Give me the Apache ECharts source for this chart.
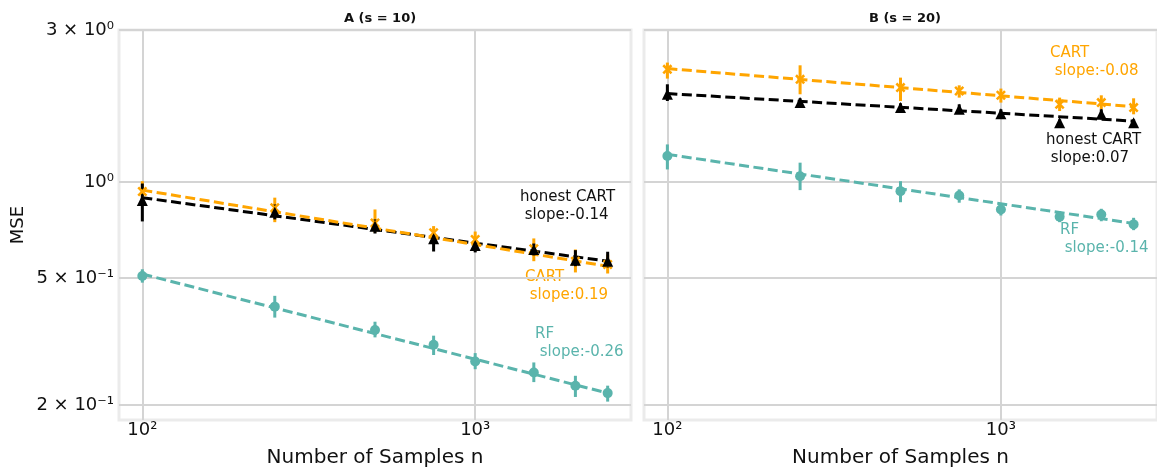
<!DOCTYPE html>
<html>
<head>
<meta charset="utf-8">
<title>MSE vs number of samples</title>
<script src="https://cdn.jsdelivr.net/npm/echarts@6/dist/echarts.min.js"></script>
<style>
  html, body { margin: 0; padding: 0; background: #fff; }
  #chart { width: 1157px; height: 468px; }
</style>
</head>
<body>
<div id="chart"></div>
<script>
// sample sizes (x) shared by both panels
const sampleSizes = [100, 250, 500, 750, 1000, 1500, 2000, 2500];

// panel A (s = 10)
const cartA = [0.935, 0.831, 0.745, 0.694, 0.661, 0.618, 0.565, 0.552];
const cartALo = [0.895, 0.749, 0.695, 0.638, 0.607, 0.565, 0.521, 0.517];
const cartAHi = [1.007, 0.894, 0.821, 0.728, 0.700, 0.666, 0.615, 0.593];
const honestA = [0.876, 0.805, 0.727, 0.664, 0.633, 0.615, 0.569, 0.565];
const honestALo = [0.753, 0.764, 0.690, 0.606, 0.602, 0.589, 0.545, 0.540];
const honestAHi = [0.990, 0.851, 0.764, 0.695, 0.661, 0.642, 0.612, 0.605];
const rfA = [0.508, 0.407, 0.344, 0.309, 0.274, 0.253, 0.230, 0.218];
const rfALo = [0.484, 0.376, 0.326, 0.287, 0.259, 0.236, 0.212, 0.205];
const rfAHi = [0.533, 0.440, 0.365, 0.330, 0.291, 0.272, 0.247, 0.230];

// panel B (s = 20)
const cartB = [2.258, 2.101, 1.979, 1.931, 1.872, 1.754, 1.776, 1.713];
const cartBLo = [2.112, 1.886, 1.797, 1.841, 1.776, 1.671, 1.692, 1.632];
const cartBHi = [2.371, 2.325, 2.127, 2.012, 1.965, 1.841, 1.872, 1.832];
const honestB = [1.886, 1.776, 1.713, 1.692, 1.640, 1.536, 1.632, 1.536];
const honestBLo = [1.797, 1.729, 1.667, 1.652, 1.597, 1.506, 1.573, 1.506];
const honestBHi = [2.027, 1.832, 1.767, 1.754, 1.692, 1.573, 1.692, 1.573];
const rfB = [1.207, 1.044, 0.937, 0.908, 0.821, 0.779, 0.792, 0.737];
const rfBLo = [1.096, 0.944, 0.865, 0.862, 0.786, 0.749, 0.754, 0.707];
const rfBHi = [1.313, 1.151, 1.007, 0.949, 0.851, 0.811, 0.825, 0.773];

// fitted lines, value at first and last sample size
const fitEnds = [100, 2500];
const cartAFit = [0.944, 0.545];
const honestAFit = [0.894, 0.565];
const rfAFit = [0.515, 0.218];
const cartBFit = [2.27, 1.725];
const honestBFit = [1.896, 1.554];
const rfBFit = [1.222, 0.742];

// ticks
const xTickValues = [100, 1000];
const xTickLabels = ['10²', '10³'];
const yTickValues = [0.2, 0.5, 1, 3];
const yTickLabels = ['2 × 10⁻¹', '5 × 10⁻¹', '10⁰', '3 × 10⁰'];

const ORANGE = '#FFA500';
const TEAL = '#5AB4AC';
const BLACK = '#000000';
const FONT = 'DejaVu Sans';
const X_SYMBOL = 'path://M0,0.18L0.18,0L1,0.82L0.82,1Z M0.82,0L1,0.18L0.18,1L0,0.82Z';

const labelFor = (v, values, labels) => {
  const i = values.findIndex(t => Math.abs(t - v) / t < 1e-6);
  return i < 0 ? '' : labels[i];
};

const xAxisFor = (gridIndex) => ({
  type: 'log',
  logBase: 10,
  gridIndex,
  min: 85.1,
  max: 2938,
  name: 'Number of Samples n',
  nameLocation: 'middle',
  nameGap: 28,
  nameTextStyle: { fontFamily: FONT, fontSize: 20, color: '#111' },
  axisLine: { show: false },
  axisTick: { show: false, customValues: xTickValues },
  axisLabel: {
    customValues: xTickValues,
    formatter: v => labelFor(v, xTickValues, xTickLabels),
    fontFamily: FONT, fontSize: 18, color: '#111', margin: 1
  },
  splitLine: { show: true, lineStyle: { color: '#d4d4d4', width: 2 } }
});

const yAxisFor = (gridIndex, showLabels) => ({
  type: 'log',
  logBase: 10,
  gridIndex,
  min: 0.1795,
  max: 3,
  name: showLabels ? 'MSE' : '',
  nameLocation: 'middle',
  nameGap: 92,
  nameTextStyle: { fontFamily: FONT, fontSize: 18, color: '#111' },
  axisLine: { show: false },
  axisTick: { show: false, customValues: yTickValues },
  axisLabel: {
    show: showLabels,
    customValues: yTickValues,
    formatter: v => labelFor(v, yTickValues, yTickLabels),
    fontFamily: FONT, fontSize: 18, color: '#111', margin: 5
  },
  splitLine: { show: true, lineStyle: { color: '#d4d4d4', width: 2 } }
});

const fitLine = (axis, ys, color) => ({
  type: 'line',
  xAxisIndex: axis, yAxisIndex: axis,
  data: fitEnds.map((n, i) => [n, ys[i]]),
  symbol: 'none',
  silent: true,
  lineStyle: { color, width: 3, type: [10, 4.5] },
  z: 2
});

const errorBars = (axis, lo, hi, color) => ({
  type: 'custom',
  xAxisIndex: axis, yAxisIndex: axis,
  data: sampleSizes.map((n, i) => [n, lo[i], hi[i]]),
  encode: { x: 0, y: [1, 2] },
  renderItem: (params, api) => {
    const p1 = api.coord([api.value(0), api.value(1)]);
    const p2 = api.coord([api.value(0), api.value(2)]);
    return {
      type: 'line',
      shape: { x1: p1[0], y1: p1[1], x2: p2[0], y2: p2[1] },
      style: { stroke: color, lineWidth: 3 }
    };
  },
  z: 3
});

const points = (axis, ys, color, symbol, size) => ({
  type: 'scatter',
  xAxisIndex: axis, yAxisIndex: axis,
  data: sampleSizes.map((n, i) => [n, ys[i]]),
  symbol,
  symbolSize: size,
  itemStyle: { color, opacity: 1 },
  z: 4
});

const panelSeries = (axis, d) => [
  fitLine(axis, d.rfFit, TEAL),
  fitLine(axis, d.honestFit, BLACK),
  fitLine(axis, d.cartFit, ORANGE),
  errorBars(axis, d.rfLo, d.rfHi, TEAL),
  errorBars(axis, d.cartLo, d.cartHi, ORANGE),
  errorBars(axis, d.honestLo, d.honestHi, BLACK),
  points(axis, d.rf, TEAL, 'circle', 10),
  points(axis, d.cart, ORANGE, X_SYMBOL, 10),
  points(axis, d.honest, BLACK, 'triangle', 11)
];

const annot = (x, yCenter, text, color) => ({
  type: 'text',
  x,
  y: yCenter - 9,
  style: { text, fill: color, font: '15px "DejaVu Sans"', lineHeight: 18, textVerticalAlign: 'top' }
});

const chart = echarts.init(document.getElementById('chart'), null, { renderer: 'canvas' });

chart.setOption({
  animation: false,
  backgroundColor: '#fff',
  title: [
    { text: 'A (s = 10)', left: 375, top: 7, textAlign: 'center',
      textStyle: { fontFamily: FONT, fontSize: 13, fontWeight: 'bold', color: '#111' } },
    { text: 'B (s = 20)', left: 900, top: 7, textAlign: 'center',
      textStyle: { fontFamily: FONT, fontSize: 13, fontWeight: 'bold', color: '#111' } }
  ],
  grid: [
    { left: 119, top: 30, width: 512, height: 390, show: true, borderColor: '#ebebeb', borderWidth: 3,
      outerBoundsMode: 'none', containLabel: false },
    { left: 644, top: 30, width: 513, height: 390, show: true, borderColor: '#ebebeb', borderWidth: 3,
      outerBoundsMode: 'none', containLabel: false }
  ],
  xAxis: [xAxisFor(0), xAxisFor(1)],
  yAxis: [yAxisFor(0, true), yAxisFor(1, false)],
  series: [
    ...panelSeries(0, {
      cart: cartA, cartLo: cartALo, cartHi: cartAHi, cartFit: cartAFit,
      honest: honestA, honestLo: honestALo, honestHi: honestAHi, honestFit: honestAFit,
      rf: rfA, rfLo: rfALo, rfHi: rfAHi, rfFit: rfAFit
    }),
    ...panelSeries(1, {
      cart: cartB, cartLo: cartBLo, cartHi: cartBHi, cartFit: cartBFit,
      honest: honestB, honestLo: honestBLo, honestHi: honestBHi, honestFit: honestBFit,
      rf: rfB, rfLo: rfBLo, rfHi: rfBHi, rfFit: rfBFit
    })
  ],
  graphic: [
    annot(520, 197, 'honest CART\n slope:-0.14', '#111'),
    annot(525, 277, 'CART\n slope:0.19', ORANGE),
    annot(535, 334, 'RF\n slope:-0.26', TEAL),
    annot(1050, 53, 'CART\n slope:-0.08', ORANGE),
    annot(1046, 140, 'honest CART\n slope:0.07', '#111'),
    annot(1060, 230, 'RF\n slope:-0.14', TEAL)
  ]
});
</script>
</body>
</html>
